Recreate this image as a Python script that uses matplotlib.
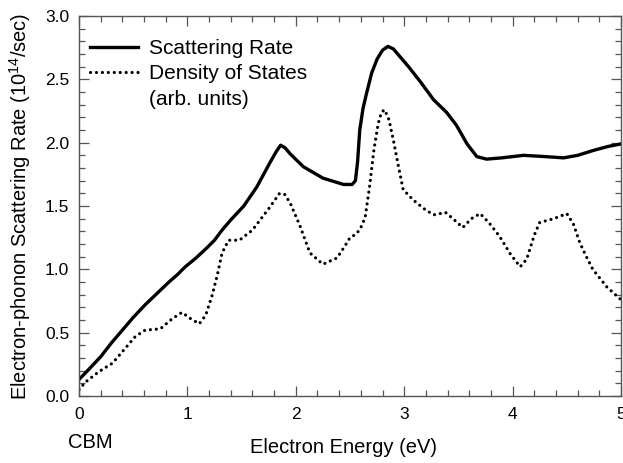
import matplotlib
matplotlib.use("Agg")
import matplotlib.pyplot as plt
from matplotlib.lines import Line2D
from matplotlib.ticker import MultipleLocator

plt.rcParams['font.family'] = ['Liberation Sans', 'DejaVu Sans']
plt.rcParams['mathtext.fontset'] = 'custom'
plt.rcParams['mathtext.rm'] = 'Liberation Sans'

# Scattering rate (solid)
rate_E = [0, 0.09, 0.20, 0.30, 0.40, 0.50, 0.61, 0.72, 0.83, 0.91, 0.98, 1.08, 1.18, 1.25,
          1.32, 1.40, 1.52, 1.64, 1.76, 1.82, 1.86, 1.90, 1.95, 2.07, 2.25, 2.44, 2.52,
          2.55, 2.57, 2.59, 2.62, 2.65, 2.70, 2.75, 2.80, 2.85, 2.90, 3.04, 3.15, 3.27,
          3.39, 3.48, 3.58, 3.67, 3.76, 3.9, 4.1, 4.3, 4.47, 4.6, 4.75, 4.88, 5.0]
rate_v = [0.13, 0.21, 0.31, 0.42, 0.52, 0.62, 0.72, 0.81, 0.90, 0.96, 1.02, 1.09, 1.17, 1.23,
          1.31, 1.39, 1.50, 1.65, 1.84, 1.93, 1.98, 1.96, 1.91, 1.81, 1.72, 1.67, 1.67,
          1.70, 1.85, 2.10, 2.27, 2.38, 2.55, 2.66, 2.73, 2.76, 2.74, 2.60, 2.48, 2.34,
          2.24, 2.14, 1.99, 1.89, 1.87, 1.88, 1.90, 1.89, 1.88, 1.90, 1.94, 1.97, 1.99]

# Density of states (dotted)
dos_E = [0, 0.06, 0.18, 0.31, 0.40, 0.52, 0.61, 0.75, 0.86, 0.95, 1.03, 1.11, 1.17, 1.23,
         1.28, 1.32, 1.38, 1.48, 1.60, 1.76, 1.85, 1.90, 1.95, 2.04, 2.13, 2.25,
         2.38, 2.45, 2.50, 2.56, 2.60, 2.64, 2.68, 2.72, 2.76, 2.79, 2.82, 2.86, 2.90,
         2.95, 2.99, 3.08, 3.18, 3.27, 3.33, 3.38, 3.45, 3.54, 3.62, 3.70, 3.78, 3.88,
         3.98, 4.07, 4.13, 4.20, 4.25, 4.38, 4.50, 4.56, 4.62, 4.68, 4.74, 4.87, 5.0]
dos_v = [0.05, 0.11, 0.19, 0.26, 0.35, 0.47, 0.52, 0.53, 0.61, 0.66, 0.61, 0.57, 0.64, 0.80,
         0.97, 1.13, 1.23, 1.23, 1.31, 1.49, 1.60, 1.59, 1.52, 1.34, 1.13, 1.04,
         1.09, 1.18, 1.25, 1.28, 1.33, 1.41, 1.65, 1.94, 2.15, 2.24, 2.26, 2.18, 2.02,
         1.80, 1.63, 1.55, 1.48, 1.43, 1.44, 1.45, 1.40, 1.33, 1.40, 1.44, 1.37, 1.26,
         1.12, 1.02, 1.08, 1.27, 1.37, 1.40, 1.44, 1.36, 1.21, 1.10, 1.00, 0.86, 0.76]

xticks = [0, 1, 2, 3, 4, 5]
yticks = [0.0, 0.5, 1.0, 1.5, 2.0, 2.5, 3.0]

DOT = (0, (0.01, 1.85))

fig = plt.figure(figsize=(6.23, 4.63), dpi=100)
ax = fig.add_axes([79/623, 1 - 396/463, 542/623, 380/463])

ax.plot(rate_E, rate_v, color='black', lw=2.4, solid_capstyle='round', solid_joinstyle='round')
ax.plot(dos_E, dos_v, color='black', lw=2.3, linestyle=DOT, dash_capstyle='round')

ax.set_xlim(0, 5)
ax.set_ylim(0, 3)
ax.set_xticks(xticks)
ax.set_xticklabels([str(t) for t in xticks])
ax.set_yticks(yticks)
ax.set_yticklabels([f"{t:.1f}" for t in yticks])
ax.xaxis.set_minor_locator(MultipleLocator(0.2))
ax.yaxis.set_minor_locator(MultipleLocator(0.1))

for s in ax.spines.values():
    s.set_color('#555555')
    s.set_linewidth(1.0)
ax.tick_params(which='both', direction='in', top=True, right=True, color='#555555', width=0.9)
ax.tick_params(which='major', length=7, labelsize=12.5)
ax.tick_params(axis='y', which='major', pad=7)
ax.tick_params(axis='x', which='major', pad=8)
ax.tick_params(which='minor', length=4.5)

ax.set_xlabel('Electron Energy (eV)', fontsize=14.5)
ax.xaxis.set_label_coords(0.488, -0.11)
ax.set_ylabel('Electron-phonon Scattering Rate (10$^{\\mathrm{14}}$/sec)', fontsize=14.5)
ax.yaxis.set_label_coords(-0.085, 0.5)

fig.text(90/623, 1 - 442/463, 'CBM', ha='center', va='center', fontsize=14.5)

handles = [Line2D([], [], color='black', lw=2.4),
           Line2D([], [], color='black', lw=2.3, linestyle=DOT, dash_capstyle='round'),
           Line2D([], [], linestyle='none')]
labels = ['Scattering Rate', 'Density of States', '(arb. units)']
ax.legend(handles, labels, loc='upper left', bbox_to_anchor=(0.02, 0.94), frameon=False,
          fontsize=15, handlelength=2.3, handletextpad=0.55, labelspacing=0.32,
          borderaxespad=0, borderpad=0)

fig.savefig('out.png', dpi=100)
